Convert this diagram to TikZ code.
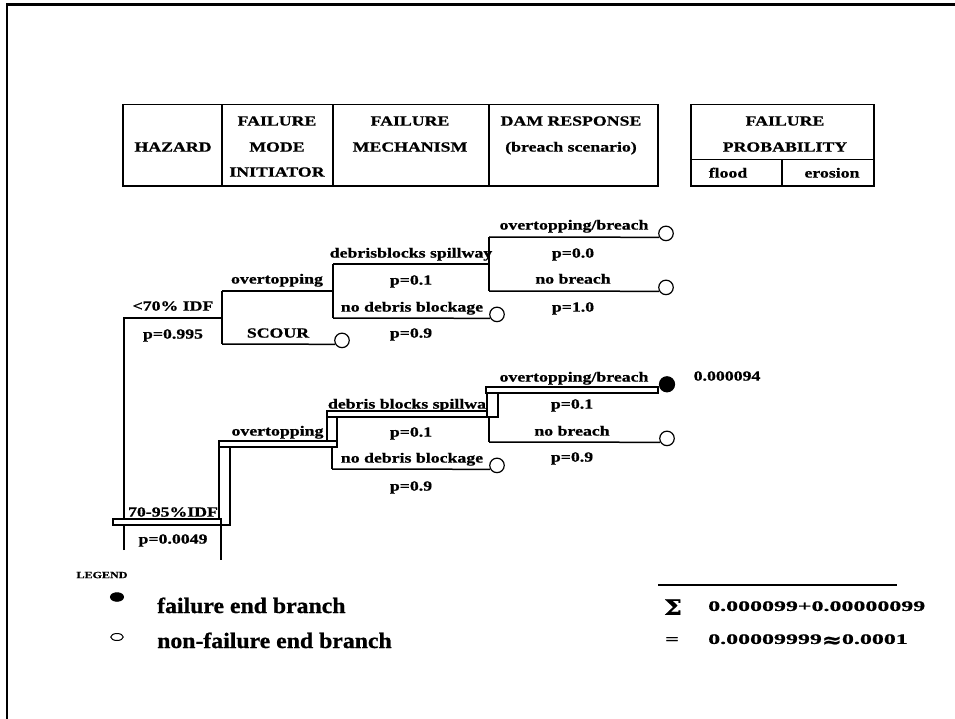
\documentclass[tikz,border=0pt]{standalone}
\usepackage{fontspec}
\usetikzlibrary{shapes.geometric}
\setmainfont{Liberation Serif}
\newfontfamily\tfont{Liberation Serif}[FakeStretch=1.27, FakeBold=0.8]
\newfontfamily\ffont{Liberation Serif}[FakeStretch=1.65, FakeBold=0.8]
\newfontfamily\lfont{Liberation Serif}[FakeStretch=1.08, FakeBold=0.8]
\newfontfamily\gfont{DejaVu Serif}[FakeStretch=1.2, FakeBold=1]
\begin{document}
\begin{tikzpicture}[x=1pt,y=-1pt,
  lab/.style={font=\tfont\bfseries\fontsize{14}{16}\selectfont, inner sep=0pt, text height=9.2pt, text depth=0pt},
  small/.style={font=\tfont\bfseries\fontsize{9.5}{11}\selectfont, inner sep=0pt, text height=6.3pt, text depth=0pt},
  leg/.style={font=\lfont\bfseries\fontsize{22}{26}\selectfont, inner sep=0pt, anchor=base west},
  form/.style={font=\ffont\bfseries\fontsize{14.5}{17}\selectfont, inner sep=0pt, text height=9.8pt, text depth=0pt},
  tline/.style={line width=1.5pt},
  trunk/.style={line width=2pt},
  hline/.style={line width=1.8pt},
  bar/.style={draw=black, fill=white, line width=1.2pt},
  endc/.style={circle, draw=black, fill=white, line width=1.2pt, minimum size=14.5pt, inner sep=0pt},
  endf/.style={endc, fill=black, minimum size=15pt},
  ]
\useasboundingbox (0,0) rectangle (955,719);
% frame
\draw[line width=2.4pt] (7.2,719) -- (7.2,4.5) -- (955,4.5);

% header table 1
\draw[hline] (123,104.5) rectangle (658,186);
\draw[hline] (222,104.5) -- (222,186);
\draw[hline] (333,104.5) -- (333,186);
\draw[hline] (489,104.5) -- (489,186);
% header table 2
\draw[hline] (691,104.5) rectangle (874,186);
\draw[hline] (691,159.5) -- (874,159.5);
\draw[hline] (782,159.5) -- (782,186);

\node[lab] (h1) at (173,147) {HAZARD};
\node[lab] (h2a) at (277,121) {FAILURE};
\node[lab] (h2b) at (277,147) {MODE};
\node[lab] (h2c) at (277,172) {INITIATOR};
\node[lab] (h3a) at (410,121) {FAILURE};
\node[lab] (h3b) at (410,147) {MECHANISM};
\node[lab] (h4a) at (571,121) {DAM RESPONSE};
\node[lab] (h4b) at (571,147) {(breach scenario)};
\node[lab] (h5a) at (785,121) {FAILURE};
\node[lab] (h5b) at (785,147) {PROBABILITY};
\node[lab] (h5c) at (728,173) {flood};
\node[lab] (h5d) at (832,173) {erosion};

% ---------- upper tree ----------
\coordinate (t0) at (124,318);
\coordinate (t1) at (124,550);
\coordinate (u1) at (222,318);
\coordinate (u1a) at (222,291);
\coordinate (u1b) at (222,344);
\coordinate (u2) at (333,291);
\coordinate (u2a) at (333,264);
\coordinate (u2b) at (333,318);
\coordinate (u3) at (489,264);
\coordinate (u3a) at (489,237);
\coordinate (u3b) at (489,291);

\node[lab] (la1) at (173,306) {<70\% IDF};
\node[lab] (la2) at (173,334) {p=0.995};
\node[lab] (la3) at (277,279) {overtopping};
\node[lab] (la4) at (278,333) {SCOUR};
\node[lab] (la5) at (411,253) {debrisblocks spillway};
\node[lab] (la6) at (411,280) {p=0.1};
\node[lab] (la7) at (412,307) {no debris blockage};
\node[lab] (la8) at (411,333) {p=0.9};
\node[lab] (la9) at (574,225) {overtopping/breach};
\node[lab] (la10) at (573,253) {p=0.0};
\node[lab] (la11) at (573,279) {no breach};
\node[lab] (la12) at (573,307) {p=1.0};

\draw[trunk] (t1) -- (t0) -- (u1);
\draw[tline] (u1a) -- (u1b);
\draw[tline] (u1a) -- (u2);
\draw[tline] (u2a) -- (u2b);
\draw[tline] (u2a) -- (u3);
\draw[tline] (u3a) -- (u3b);

\node[endc] (cs) at (342,340.4) {};
\node[endc] (cnd) at (497,314.4) {};
\node[endc] (cob) at (666,233.4) {};
\node[endc] (cnb) at (666,287.4) {};
\draw[tline] (u1b) -- (cs.210);
\draw[tline] (u2b) -- (cnd.210);
\draw[tline] (u3a) -- (cob.210);
\draw[tline] (u3b) -- (cnb.210);

% ---------- lower tree ----------
\coordinate (bA1) at (113,519);  \coordinate (bA2) at (221,525);
\coordinate (bB1) at (219,441);  \coordinate (bB2) at (230,525);
\coordinate (bC1) at (219,441);  \coordinate (bC2) at (337,447);
\coordinate (bD1) at (327,411);  \coordinate (bD2) at (337,447);
\coordinate (bE1) at (327,411);  \coordinate (bE2) at (487,417);
\coordinate (bF1) at (487,387);  \coordinate (bF2) at (498,417);
\coordinate (bG1) at (486,387);  \coordinate (bG2) at (658,393);

\coordinate (l1a) at (221,525);  \coordinate (l1b) at (221,560);
\coordinate (l2a) at (332,447);  \coordinate (l2b) at (332,469);
\coordinate (l3a) at (489,417);  \coordinate (l3b) at (489,442);

\draw[tline] (l1a) -- (l1b);
\draw[tline] (l2a) -- (l2b);
\draw[tline] (l3a) -- (l3b);

\draw[bar] (bB1) rectangle (bB2);
\draw[bar] (bA1) rectangle (bA2);
\draw[bar] (bD1) rectangle (bD2);
\draw[bar] (bC1) rectangle (bC2);
\draw[bar] (bF1) rectangle (bF2);
\draw[bar] (bE1) rectangle (bE2);
\draw[bar] (bG1) rectangle (bG2);

\node[endc] (cnd2) at (497,465.4) {};
\node[endc] (cnb2) at (667,438.4) {};
\node[endf] (cf) at (667,384.3) {};
\draw[tline] (l2b) -- (cnd2.210);
\draw[tline] (l3b) -- (cnb2.210);

\node[lab] (lb1) at (173,512) {70-95\%IDF};
\node[lab] (lb2) at (173,539) {p=0.0049};
\node[lab] (lb3) at (277.5,431) {overtopping};
\node[lab] (lb4) at (407,404) {debris blocks spillwa};
\node[lab] (lb5) at (411,432) {p=0.1};
\node[lab] (lb6) at (412,458) {no debris blockage};
\node[lab] (lb7) at (411,486) {p=0.9};
\node[lab] (lb8) at (574,377) {overtopping/breach};
\node[lab] (lb9) at (572,404) {p=0.1};
\node[lab] (lb10) at (572,431) {no breach};
\node[lab] (lb11) at (572,457) {p=0.9};
\node[lab] (lb12) at (727,376) {0.000094};

% ---------- legend ----------
\node[small] (lg) at (102,575) {LEGEND};
\node[ellipse, draw=black, fill=black, line width=1pt, minimum width=13pt, minimum height=8.5pt, inner sep=0pt] (lgf) at (117,597) {};
\node[ellipse, draw=black, fill=white, line width=1pt, minimum width=12.5pt, minimum height=7pt, inner sep=0pt] (lgo) at (117,637) {};
\node[leg] (lgt1) at (157,613) {failure end branch};
\node[leg] (lgt2) at (157,648) {non-failure end branch};

% ---------- sum ----------
\coordinate (s1) at (658,585); \coordinate (s2) at (897,585);
\draw[line width=1.3pt] (s1) -- (s2);
\node[font=\gfont\bfseries\fontsize{21}{24}\selectfont, inner sep=0pt, text height=13.5pt, text depth=0pt] (sg) at (673,608) {Σ};
\node[form, anchor=west] (sv) at (708,606) {0.000099+0.00000099};
\node[form] (eq) at (672,639) {=};
\node[form, anchor=west] (ev) at (708,639) {0.00009999{\gfont\bfseries\fontsize{20}{22}\selectfont\raisebox{-3pt}{≈}}0.0001};
\end{tikzpicture}
\end{document}
